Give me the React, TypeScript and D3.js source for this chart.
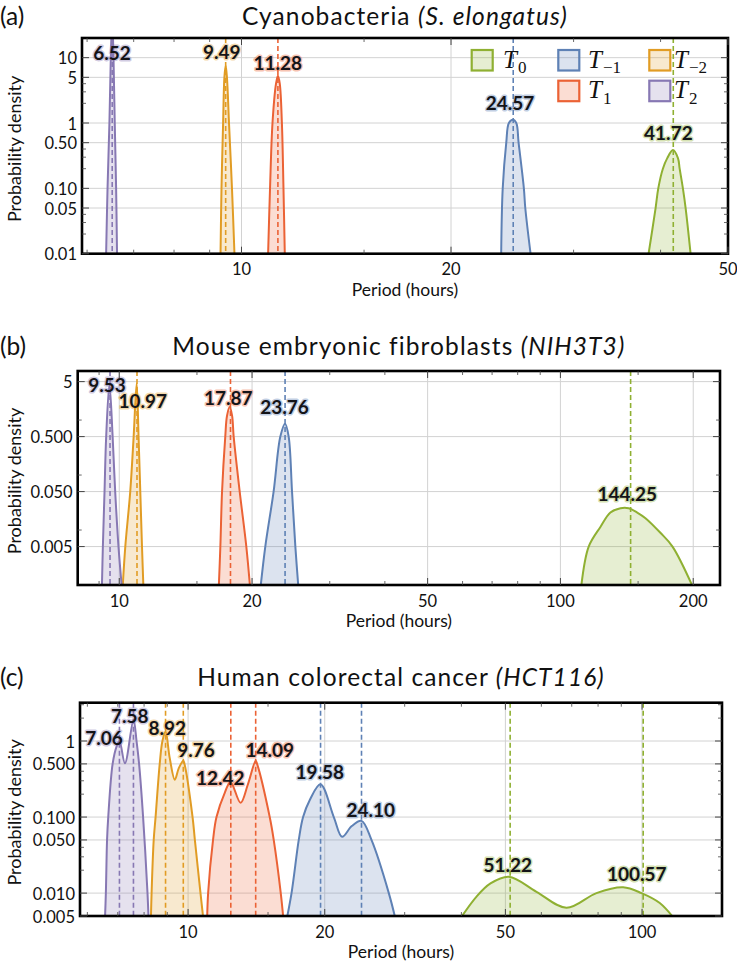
import React from "react";
import * as d3 from "d3";

type Pt = [number, number];

// ---------- series ----------
const seriesKeys = ["T0", "T-1", "T-2", "T1", "T2"];
const seriesColors = ["#8FB032", "#5E81B5", "#E19C24", "#EB6235", "#8778B3"];
const legendSubs = ["0", "\u22121", "\u22122", "1", "2"];

// ---------- panel (a) Cyanobacteria ----------
const aDomainX: [number, number] = [5.9, 50];
const aDomainY: [number, number] = [0.01, 20];
const aTicksX = [10, 20, 50];
const aMinorX = [6, 7, 8, 9, 15, 30, 40];
const aTicksY = [0.01, 0.05, 0.1, 0.5, 1, 5, 10];
const aTickLabelsY = ["0.01", "0.05", "0.10", "0.50", "1", "5", "10"];
const aMinorY = [0.02, 0.03, 0.04, 0.2, 0.3, 0.4, 2, 3, 4, 20];
const aT0: Pt[] = [[38.45, 0.01], [39.35, 0.05], [39.7, 0.1], [40.31, 0.2], [40.9, 0.29], [41.67, 0.385], [42.37, 0.29], [42.61, 0.2], [43.07, 0.1], [43.46, 0.05], [44.18, 0.01]];
const aTm1: Pt[] = [[23.61, 0.01], [23.73, 0.1], [24.01, 0.5], [24.22, 1], [24.55, 1.12], [24.82, 1], [25.01, 0.5], [25.45, 0.1], [25.57, 0.05], [26.02, 0.01]];
const aTm2: Pt[] = [[9.33, 0.01], [9.36, 0.1], [9.41, 1], [9.45, 5], [9.49, 7.5], [9.53, 5], [9.595, 1], [9.69, 0.1], [9.77, 0.01]];
const aT1: Pt[] = [[10.92, 0.01], [10.99, 0.1], [11.08, 1], [11.21, 4], [11.28, 5.3], [11.35, 4], [11.43, 1], [11.49, 0.1], [11.54, 0.01]];
const aT2: Pt[] = [[6.39, 0.01], [6.42, 0.1], [6.46, 1], [6.49, 10], [6.52, 40], [6.548, 10], [6.575, 1], [6.605, 0.1], [6.625, 0.01]];
const aModes: [string, number][] = [["T2", 6.52], ["T-2", 9.49], ["T1", 11.28], ["T-1", 24.57], ["T0", 41.72]];
const aLabelAt: Pt[] = [[6.516, 9.29], [9.367, 9.62], [11.275, 6.38], [24.31, 1.563], [41.05, 0.544]];

// ---------- panel (b) NIH3T3 ----------
const bDomainX: [number, number] = [8.05, 230];
const bDomainY: [number, number] = [0.001, 7.8];
const bTicksX = [10, 20, 50, 100, 200];
const bMinorX = [9, 15, 30, 40, 60, 70, 80, 90, 150];
const bTicksY = [0.005, 0.05, 0.5, 5];
const bTickLabelsY = ["0.005", "0.050", "0.500", "5"];
const bMinorY = [0.01, 0.1, 1];
const bT0: Pt[] = [[111.4, 0.0009], [115.9, 0.005], [123.3, 0.0115], [129.8, 0.0208], [136.8, 0.0249], [142.8, 0.0249], [149.3, 0.0208], [155.9, 0.0164], [168.5, 0.0089], [179.5, 0.005], [199.9, 0.0009]];
const bTm1: Pt[] = [[20.87, 0.0008], [21.43, 0.005], [22.38, 0.05], [23.18, 0.5], [23.76, 0.86], [24.21, 0.5], [24.64, 0.05], [25.07, 0.005], [25.5, 0.0008]];
const bTm2: Pt[] = [[10.17, 0.0008], [10.32, 0.005], [10.59, 0.05], [10.78, 0.5], [10.95, 4.6], [11.06, 0.5], [11.16, 0.05], [11.26, 0.005], [11.35, 0.0008]];
const bT1: Pt[] = [[16.8, 0.0008], [16.95, 0.005], [17.1, 0.05], [17.39, 0.5], [17.55, 1.2], [17.8, 1.72], [18.02, 1.2], [18.17, 0.5], [18.75, 0.05], [19.41, 0.005], [19.82, 0.0008]];
const bT2: Pt[] = [[9.13, 0.0008], [9.18, 0.005], [9.26, 0.05], [9.34, 0.5], [9.5, 4.5], [9.66, 0.5], [9.79, 0.05], [9.96, 0.005], [10.15, 0.0008]];
const bModes: [string, number][] = [["T2", 9.53], ["T-2", 10.97], ["T1", 17.87], ["T-1", 23.76], ["T0", 144.25]];
const bLabelAt: Pt[] = [[9.379, 3.29], [11.304, 1.663], [17.67, 1.886], [23.69, 1.293], [141.7, 0.0343]];

// ---------- panel (c) HCT116 ----------
const cDomainX: [number, number] = [5.78, 150];
const cDomainY: [number, number] = [0.005, 3.19];
const cTicksX = [10, 20, 50, 100];
const cMinorX = [6, 7, 8, 9, 15, 30, 40, 60, 70, 80, 90];
const cTicksY = [0.005, 0.01, 0.05, 0.1, 0.5, 1];
const cTickLabelsY = ["0.005", "0.010", "0.050", "0.100", "0.500", "1"];
const cMinorY = [0.02, 0.03, 0.04, 0.2, 0.3, 0.4, 2, 3];
const cT0: Pt[] = [[39.13, 0.004], [43.19, 0.009], [46.36, 0.0134], [50.9, 0.0164], [58.54, 0.0104], [68.15, 0.0064], [79.35, 0.01], [90.83, 0.0119], [99.7, 0.01], [109.4, 0.0074], [120, 0.004]];
const cTm1: Pt[] = [[16.42, 0.004], [16.9, 0.01], [17.53, 0.05], [17.92, 0.1], [18.54, 0.168], [19.58, 0.269], [20.94, 0.1], [21.84, 0.055], [22.94, 0.0762], [24.1, 0.089], [25.35, 0.05], [27.68, 0.01], [28.78, 0.004]];
const cTm2: Pt[] = [[8.277, 0.004], [8.31, 0.01], [8.4, 0.05], [8.48, 0.1], [8.66, 0.5], [8.78, 1], [8.92, 1.33], [9.11, 0.6], [9.35, 0.31], [9.54, 0.44], [9.76, 0.55], [9.82, 0.5], [10.23, 0.1], [10.35, 0.05], [10.65, 0.01], [10.83, 0.004]];
const cT1: Pt[] = [[11.01, 0.004], [11.07, 0.01], [11.35, 0.05], [11.55, 0.1], [12.05, 0.21], [12.4, 0.29], [13.05, 0.154], [13.53, 0.264], [14.09, 0.55], [14.19, 0.5], [15.13, 0.1], [15.44, 0.05], [16.0, 0.01], [16.25, 0.004]];
const cT2: Pt[] = [[6.555, 0.004], [6.59, 0.01], [6.63, 0.05], [6.67, 0.1], [6.82, 0.5], [6.96, 0.85], [7.06, 1.0], [7.26, 0.51], [7.58, 1.89], [7.7, 1], [7.8, 0.5], [7.96, 0.1], [8.14, 0.01], [8.19, 0.004]];
const cModes: [string, number][] = [["T2", 7.06], ["T2", 7.58], ["T-2", 8.92], ["T-2", 9.76], ["T1", 12.42], ["T1", 14.09], ["T-1", 19.58], ["T-1", 24.1], ["T0", 51.22], ["T0", 100.57]];
const cLabelAt: Pt[] = [[6.531, 0.886], [7.441, 1.709], [9.0, 1.199], [10.41, 0.6216], [11.77, 0.2639], [15.13, 0.6216], [19.5, 0.3165], [25.26, 0.1011], [50.6, 0.01912], [97.35, 0.01455]];

const FONT = "Lato, 'Open Sans', sans-serif";
const colorOf = (k: string) => seriesColors[seriesKeys.indexOf(k)];

interface PanelProps {
  id: string;
  letter: string;
  title: string;
  titleItalic: string;
  titleY: number;
  l: number; r: number; t: number; b: number;
  xDomain: [number, number]; yDomain: [number, number];
  xTicks: number[]; xMinor: number[];
  yTicks: number[]; yTickLabels: string[]; yMinor: number[];
  curves: Record<string, Pt[]>;
  modes: [string, number][];
  labelAt: Pt[];
  legend?: boolean;
}

function Legend() {
  const cols = [471.7, 558.3, 649.3];
  const textX = [503, 588, 674];
  const rows = [50, 80.7];
  const slots = [[0, 0], [1, 0], [2, 0], [1, 1], [2, 1]];
  return (
    <g>
      {seriesKeys.map((k, i) => {
        const [c, r] = slots[i];
        const sx = cols[c], sy = rows[r];
        const col = seriesColors[i];
        return (
          <g key={k}>
            <rect x={sx} y={sy} width={21} height={20.5} fill={col} fillOpacity={0.22} stroke={col} strokeWidth={2.2} />
            <text x={textX[c]} y={sy + 17.5} fontFamily="'Liberation Serif', 'DejaVu Serif', serif" fontStyle="italic" fontSize={25} fill="#111">
              T
              <tspan fontStyle="normal" fontSize={17} dx={1} dy={5.5}>{legendSubs[i]}</tspan>
            </text>
          </g>
        );
      })}
    </g>
  );
}

function Panel(p: PanelProps) {
  const x = d3.scaleLog().domain(p.xDomain).range([p.l, p.r]);
  const y = d3.scaleLog().domain(p.yDomain).range([p.b, p.t]);
  const curve = d3.curveCatmullRom.alpha(0.5);
  const area = d3.area<Pt>().x((d) => x(d[0])).y0(p.b).y1((d) => y(d[1])).curve(curve);
  const line = d3.line<Pt>().x((d) => x(d[0])).y((d) => y(d[1])).curve(curve);
  const cx = (p.l + p.r) / 2;
  const cy = (p.t + p.b) / 2;
  const grid = "#d2d2d2";
  const tickCol = "#444";
  return (
    <g>
      <defs>
        <clipPath id={p.id}>
          <rect x={p.l} y={p.t} width={p.r - p.l} height={p.b - p.t} />
        </clipPath>
      </defs>
      <text x={0} y={p.titleY} fontFamily={FONT} fontSize={24.5} fill="#111">{p.letter}</text>
      <text x={cx} y={p.titleY} textAnchor="middle" fontFamily={FONT} fontSize={24.5} letterSpacing={1.1} fill="#111">
        {p.title}
        <tspan fontStyle="italic">{p.titleItalic}</tspan>
      </text>
      {p.xTicks.map((v) => (
        <line key={"gx" + v} x1={x(v)} x2={x(v)} y1={p.t} y2={p.b} stroke={grid} strokeWidth={1} />
      ))}
      {p.yTicks.map((v) => (
        <line key={"gy" + v} x1={p.l} x2={p.r} y1={y(v)} y2={y(v)} stroke={grid} strokeWidth={1} />
      ))}
      {p.legend ? <Legend /> : null}
      <g clipPath={`url(#${p.id})`}>
        {seriesKeys.map((k) =>
          p.curves[k] ? (
            <g key={k}>
              <path d={area(p.curves[k]) || ""} fill={colorOf(k)} fillOpacity={0.22} stroke="none" />
              <path d={line(p.curves[k]) || ""} fill="none" stroke={colorOf(k)} strokeWidth={2} strokeLinejoin="round" />
            </g>
          ) : null
        )}
        {p.modes.map(([k, v], i) => (
          <line key={"m" + i} x1={x(v)} x2={x(v)} y1={p.t} y2={p.b} stroke={colorOf(k)} strokeWidth={1.6} strokeDasharray="5 3" />
        ))}
      </g>
      {p.modes.map(([k, v], i) => (
        <text
          key={"lab" + i}
          x={x(p.labelAt[i][0])}
          y={y(p.labelAt[i][1])}
          textAnchor="middle"
          fontFamily={FONT}
          fontWeight={700}
          fontSize={19}
          fill="#141418"
          stroke={colorOf(k)}
          strokeOpacity={0.4}
          strokeWidth={3}
          strokeLinejoin="round"
          paintOrder="stroke"
        >
          {v.toFixed(2)}
        </text>
      ))}
      <rect x={p.l} y={p.t} width={p.r - p.l} height={p.b - p.t} fill="none" stroke="#000" strokeWidth={2.6} />
      {p.xTicks.map((v) => (
        <g key={"tx" + v}>
          <line x1={x(v)} x2={x(v)} y1={p.b} y2={p.b - 7} stroke={tickCol} strokeWidth={1} />
          <line x1={x(v)} x2={x(v)} y1={p.t} y2={p.t + 7} stroke={tickCol} strokeWidth={1} />
        </g>
      ))}
      {p.xMinor.map((v) => (
        <g key={"mx" + v}>
          <line x1={x(v)} x2={x(v)} y1={p.b} y2={p.b - 4} stroke={tickCol} strokeWidth={0.8} />
          <line x1={x(v)} x2={x(v)} y1={p.t} y2={p.t + 4} stroke={tickCol} strokeWidth={0.8} />
        </g>
      ))}
      {p.yTicks.map((v) => (
        <g key={"ty" + v}>
          <line x1={p.l} x2={p.l + 7} y1={y(v)} y2={y(v)} stroke={tickCol} strokeWidth={1} />
          <line x1={p.r} x2={p.r - 7} y1={y(v)} y2={y(v)} stroke={tickCol} strokeWidth={1} />
        </g>
      ))}
      {p.yMinor
        .filter((v) => v > p.yDomain[0] && v < p.yDomain[1])
        .map((v) => (
          <g key={"my" + v}>
            <line x1={p.l} x2={p.l + 4} y1={y(v)} y2={y(v)} stroke={tickCol} strokeWidth={0.8} />
            <line x1={p.r} x2={p.r - 4} y1={y(v)} y2={y(v)} stroke={tickCol} strokeWidth={0.8} />
          </g>
        ))}
      {p.xTicks.map((v) => (
        <text key={"lx" + v} x={x(v)} y={p.b + 21.5} textAnchor="middle" fontFamily={FONT} fontSize={16.5} fill="#111">
          {String(v)}
        </text>
      ))}
      {p.yTicks.map((v, i) => (
        <text key={"ly" + v} x={p.l - 5} y={y(v) + 6.5} textAnchor="end" fontFamily={FONT} fontSize={16.5} fill="#111">
          {p.yTickLabels[i]}
        </text>
      ))}
      <text x={cx} y={p.b + 42} textAnchor="middle" fontFamily={FONT} fontSize={17.5} fill="#111">
        Period (hours)
      </text>
      <text transform={`translate(21,${cy + 3}) rotate(-90)`} textAnchor="middle" fontFamily={FONT} fontSize={18} fill="#111">
        Probability density
      </text>
    </g>
  );
}

export default function App() {
  return (
    <svg width={737} height={962} viewBox="0 0 737 962" style={{ position: "absolute", left: 0, top: 0, background: "#fff" }}>
      <rect x={0} y={0} width={737} height={962} fill="#fff" />
      <Panel
        id="clipA" letter="(a)" title="Cyanobacteria " titleItalic="(S. elongatus)" titleY={24.5}
        l={82} r={728} t={38} b={253.7}
        xDomain={aDomainX} yDomain={aDomainY}
        xTicks={aTicksX} xMinor={aMinorX} yTicks={aTicksY} yTickLabels={aTickLabelsY} yMinor={aMinorY}
        curves={{ T0: aT0, "T-1": aTm1, "T-2": aTm2, T1: aT1, T2: aT2 }}
        modes={aModes} labelAt={aLabelAt} legend
      />
      <Panel
        id="clipB" letter="(b)" title="Mouse embryonic fibroblasts " titleItalic="(NIH3T3)" titleY={355}
        l={77.7} r={720} t={371} b={585}
        xDomain={bDomainX} yDomain={bDomainY}
        xTicks={bTicksX} xMinor={bMinorX} yTicks={bTicksY} yTickLabels={bTickLabelsY} yMinor={bMinorY}
        curves={{ T0: bT0, "T-1": bTm1, "T-2": bTm2, T1: bT1, T2: bT2 }}
        modes={bModes} labelAt={bLabelAt}
      />
      <Panel
        id="clipC" letter="(c)" title="Human colorectal cancer " titleItalic="(HCT116)" titleY={686}
        l={80} r={722} t={702.7} b={916}
        xDomain={cDomainX} yDomain={cDomainY}
        xTicks={cTicksX} xMinor={cMinorX} yTicks={cTicksY} yTickLabels={cTickLabelsY} yMinor={cMinorY}
        curves={{ T0: cT0, "T-1": cTm1, "T-2": cTm2, T1: cT1, T2: cT2 }}
        modes={cModes} labelAt={cLabelAt}
      />
    </svg>
  );
}
